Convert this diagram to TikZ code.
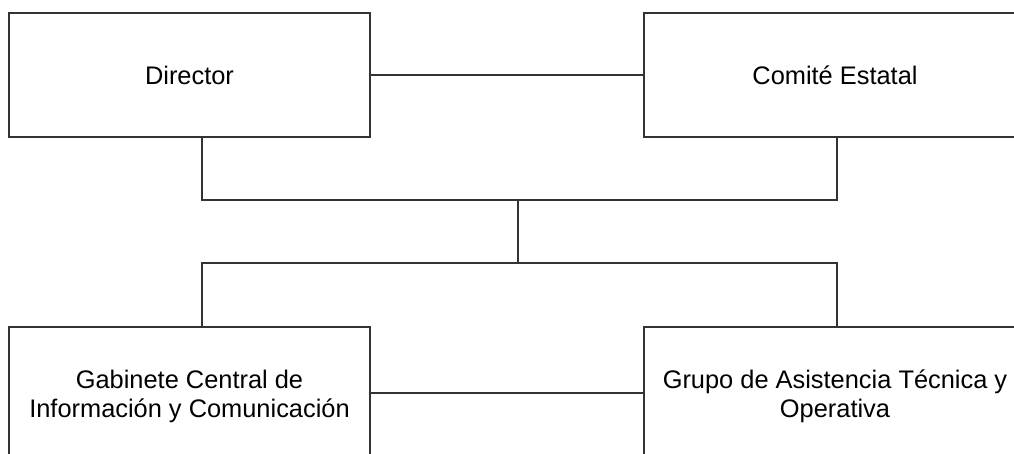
\documentclass[tikz,border=0pt]{standalone}
\usepackage{fontspec}
\setmainfont{Liberation Sans}
\begin{document}
\begin{tikzpicture}[x=1pt,y=-1pt,
  box/.style={draw=black!80, line width=1.7pt, fill=white, inner sep=0pt,
    align=center, font=\fontsize{25.4}{29}\selectfont, text=black},
  link/.style={draw=black!80, line width=1.7pt}]
\useasboundingbox (0,0) rectangle (1014,453);
\clip (0,0) rectangle (1014,453);
\node[box, minimum width=361pt, minimum height=124.5pt] (dir) at (189.5,75) {Director};
\node[box, minimum width=382pt, minimum height=124.5pt] (com) at (835,75) {Comité Estatal};
\node[box, minimum width=361pt, minimum height=138pt] (gab) at (189.5,396) {Gabinete Central de\\Información y Comunicación};
\node[box, minimum width=382pt, minimum height=138pt] (gru) at (835,396) {Grupo de Asistencia Técnica y\\Operativa};
\coordinate (tl) at (202,200);
\coordinate (tr) at (837,200);
\coordinate (tm) at (518,200);
\coordinate (bm) at (518,263);
\coordinate (bl) at (202,263);
\coordinate (br) at (837,263);
\draw[link] (dir.east) -- (com.west);
\draw[link] (dir.south -| tl) -- (tl) -- (tr) -- (com.south -| tr);
\draw[link] (tm) -- (bm);
\draw[link] (gab.north -| bl) -- (bl) -- (br) -- (gru.north -| br);
\draw[link] (gab.east |- 0,393) -- (gru.west |- 0,393);
\end{tikzpicture}
\end{document}
